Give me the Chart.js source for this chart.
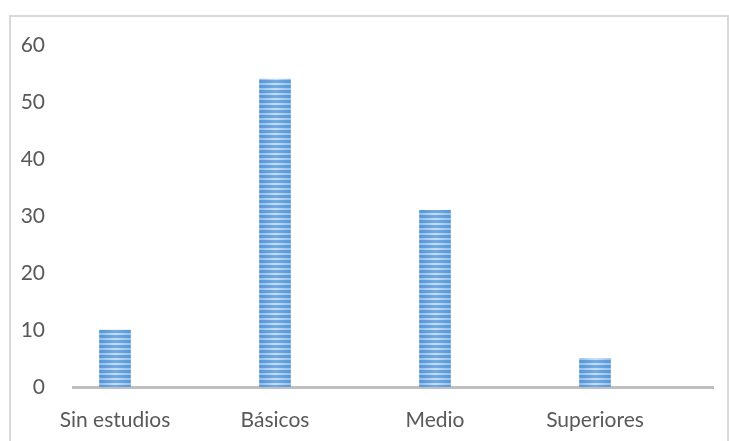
<!DOCTYPE html>
<html>
<head>
<meta charset="utf-8">
<script src="https://cdn.jsdelivr.net/npm/chart.js@4/dist/chart.umd.min.js"></script>
<style>
  html, body { margin: 0; padding: 0; background: #fff; }
  #frame {
    position: absolute; left: 9px; top: 15px;
    width: 716px; height: 440px;
    border: 2px solid #d9d9d9;
  }
  #wrap { position: absolute; left: 0; top: 0; width: 729px; height: 441px; }
</style>
</head>
<body>
<div id="frame"></div>
<div id="wrap"><canvas id="myChart" width="729" height="441"></canvas></div>
<script>
// education level counts
const categories = ['Sin estudios', 'Básicos', 'Medio', 'Superiores'];
const values = [10, 54, 31, 5];
const yTicks = [0, 10, 20, 30, 40, 50, 60];

const BAR_W = 31;
const STRIPE = 5;

// striped fill, lighter towards the middle of each bar
var makeStripes = function(chart, left) {
    var tile = document.createElement('canvas');
    tile.width = BAR_W;
    tile.height = STRIPE;
    var c = tile.getContext('2d');
    for (let row = 0; row < STRIPE; row++) {
        let dark = row < 3;
        let g = c.createLinearGradient(0, 0, BAR_W, 0);
        g.addColorStop(0, dark ? '#5597d6' : '#94bfe9');
        g.addColorStop(0.5, dark ? '#74aae2' : '#c6def5');
        g.addColorStop(1, dark ? '#5597d6' : '#94bfe9');
        c.fillStyle = g;
        c.fillRect(0, row, BAR_W, 1);
    }
    var p = chart.ctx.createPattern(tile, 'repeat');
    p.setTransform(new DOMMatrix().translate(left, 0));
    return p;
};

const data = {
    datasets: [{
        data: values.map(function(v, i) { return { x: i, y: v }; }),
        barThickness: BAR_W,
        borderWidth: 0,
        backgroundColor: function(ctx) {
            var chart = ctx.chart;
            if (!chart.scales.x) return '#5b9bd5';
            var cx = chart.scales.x.getPixelForValue(ctx.dataIndex);
            return makeStripes(chart, Math.round(cx - BAR_W / 2));
        }
    }]
};

const config = {
    type: 'bar',
    data: data,
    options: {
        responsive: false,
        animation: false,
        layout: {
            padding: { left: 0, right: 16, top: 45, bottom: 0 }
        },
        plugins: {
            legend: { display: false },
            tooltip: { enabled: false }
        },
        scales: {
            x: {
                type: 'linear',
                offset: false,
                min: -0.2625,
                max: 3.7375,
                grid: { display: false, offset: false },
                border: { display: true, color: '#bfbfbf', width: 3 },
                afterBuildTicks: function(scale) {
                    scale.ticks = categories.map(function(c, i) { return { value: i }; });
                },
                ticks: {
                    padding: 13,
                    color: '#595959',
                    font: { family: 'Lato', size: 21 },
                    callback: function(value) {
                        return categories[value];
                    }
                },
                afterFit: function(scale) { scale.height = 54; }
            },
            y: {
                min: 0,
                max: 60,
                grid: { display: false },
                border: { display: false },
                afterBuildTicks: function(scale) {
                    scale.ticks = yTicks.map(function(v) { return { value: v }; });
                },
                ticks: {
                    padding: 20,
                    color: '#595959',
                    font: { family: 'Lato', size: 21 }
                },
                afterFit: function(scale) { scale.width = 73; }
            }
        }
    }
};

var myChart = new Chart(document.getElementById('myChart'), config);
</script>
</body>
</html>
